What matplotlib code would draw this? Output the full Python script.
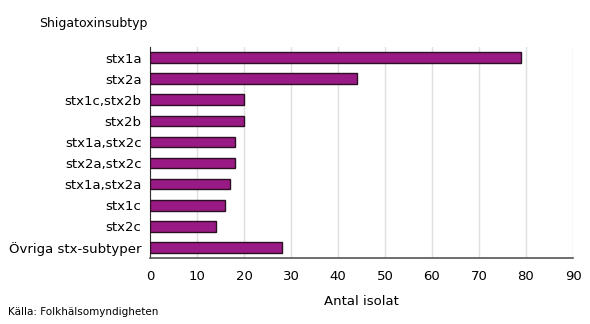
import matplotlib.pyplot as plt

# Shigatoxin subtypes and number of isolates
subtypes = ["stx1a", "stx2a", "stx1c,stx2b", "stx2b", "stx1a,stx2c",
            "stx2a,stx2c", "stx1a,stx2a", "stx1c", "stx2c", "Övriga stx-subtyper"]
isolates = [79, 44, 20, 20, 18, 18, 17, 16, 14, 28]
xticks = [0, 10, 20, 30, 40, 50, 60, 70, 80, 90]

plt.rcParams["font.family"] = ["DejaVu Sans"]

fig = plt.figure(figsize=(5.9, 3.24), dpi=100)
ax = fig.add_axes([150 / 590, 1 - 258 / 324, 423 / 590, 211 / 324])

ypos = list(range(len(subtypes)))
ax.barh(ypos, isolates, height=0.5, color="#9a1a85", edgecolor="#2a1020",
        linewidth=1.0, zorder=3)

ax.set_ylim(len(subtypes) - 0.5, -0.5)
ax.set_yticks(ypos)
ax.set_yticklabels(subtypes, fontsize=9.5)
ax.set_xlim(0, 90)
ax.set_xticks(xticks)
ax.set_xticklabels([str(t) for t in xticks], fontsize=9.5)
ax.tick_params(axis="both", length=0, pad=6)
ax.tick_params(axis="x", pad=9)

ax.grid(axis="x", color="#e0e0e0", linewidth=1.0, zorder=0)
for side in ["top", "right"]:
    ax.spines[side].set_visible(False)
ax.spines["left"].set_color("#333333")
ax.spines["bottom"].set_color("#555555")
ax.spines["bottom"].set_linewidth(1.2)

ax.set_xlabel("Antal isolat", fontsize=9.5, labelpad=8)

fig.text(39 / 590, 1 - 23 / 324, "Shigatoxinsubtyp", fontsize=9,
         va="center", ha="left")
fig.text(8 / 590, 1 - 312 / 324, "Källa: Folkhälsomyndigheten", fontsize=7.5,
         va="center", ha="left")

fig.savefig("out.png", dpi=100)
